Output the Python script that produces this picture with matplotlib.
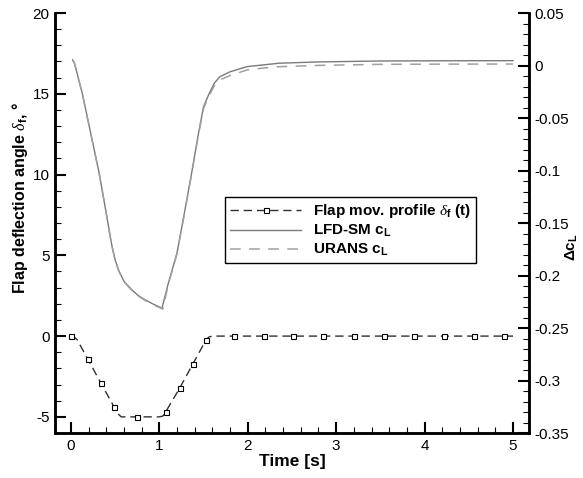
import matplotlib
matplotlib.use("Agg")
import matplotlib.pyplot as plt
from matplotlib.ticker import MultipleLocator
import numpy as np

plt.rcParams['font.family'] = ['Liberation Sans', 'DejaVu Sans']
plt.rcParams['mathtext.fontset'] = 'custom'
plt.rcParams['mathtext.rm'] = 'Liberation Sans'
plt.rcParams['mathtext.it'] = 'Liberation Serif:italic'
plt.rcParams['mathtext.bf'] = 'Liberation Sans:bold'
plt.rcParams['axes.unicode_minus'] = False

# ---------------- data ----------------
# flap movement profile (deg), left axis
flap_t = [0.0, 0.03, 0.07, 0.19, 0.34, 0.49, 0.54, 0.57, 0.75, 1.00, 1.04, 1.07,
          1.23, 1.38, 1.53, 1.56, 1.60, 1.85, 2.18, 2.51, 2.85, 3.20, 3.54, 3.88,
          4.22, 4.56, 4.90, 5.00]
flap_deg = [0.0, -0.03, -0.22, -1.41, -2.92, -4.40, -4.85, -5.0, -5.0, -5.0, -4.95, -4.71,
            -3.22, -1.72, -0.22, -0.06, 0.0, 0.0, 0.0, 0.0, 0.0, 0.0, 0.0, 0.0,
            0.0, 0.0, 0.0, 0.0]
flap_marker_t = [0.0, 0.19, 0.34, 0.49, 0.75, 1.07, 1.23, 1.38, 1.53, 1.85, 2.18,
                 2.51, 2.85, 3.20, 3.54, 3.88, 4.22, 4.56, 4.90]

# LFD-SM delta cL, right axis
lfd_t = [0.02, 0.04, 0.13, 0.22, 0.32, 0.40, 0.46, 0.50, 0.54, 0.60, 0.69, 0.76,
         0.84, 0.93, 1.03, 1.10, 1.20, 1.28, 1.365, 1.44, 1.50, 1.565, 1.62, 1.685,
         1.80, 1.99, 2.20, 2.36, 2.80, 3.49, 4.20, 5.00]
lfd_cl = [0.0054, 0.0023, -0.0269, -0.0628, -0.1026, -0.1408, -0.1700, -0.1850,
          -0.1950, -0.2055, -0.2137, -0.2190, -0.2232, -0.2272, -0.2311, -0.2080, -0.1785,
          -0.1420, -0.1026, -0.0660, -0.0392, -0.0265, -0.0170, -0.0106, -0.0060,
          -0.0011, 0.0008, 0.0022, 0.0034, 0.0043, 0.0045, 0.0046]

# URANS delta cL, right axis
urans_t = [0.02, 0.04, 0.13, 0.22, 0.32, 0.40, 0.46, 0.50, 0.54, 0.60, 0.69, 0.76,
           0.84, 0.93, 1.04, 1.10, 1.20, 1.28, 1.365, 1.44, 1.50, 1.565, 1.62, 1.685,
           1.80, 1.99, 2.20, 2.36, 2.80, 3.49, 4.20, 5.00]
urans_cl = [0.0050, 0.0020, -0.0274, -0.0633, -0.1030, -0.1413, -0.1705, -0.1855,
            -0.1955, -0.2060, -0.2142, -0.2195, -0.2237, -0.2278, -0.2320, -0.2090, -0.1795,
            -0.1430, -0.1036, -0.0672, -0.0408, -0.0285, -0.0195, -0.0138, -0.0095,
            -0.0043, -0.0022, -0.0011, 0.0001, 0.0011, 0.0013, 0.0014]

labels = [r"Flap mov. profile $\mathit{\delta}_\mathregular{f}$ (t)",
          r"LFD-SM c$_\mathbf{L}$",
          r"URANS c$_\mathbf{L}$"]

# ---------------- figure ----------------
fig = plt.figure(figsize=(5.83, 4.78), dpi=100)
ax = fig.add_axes([0.0943, 0.0941, 0.8130, 0.8787])
ax2 = ax.twinx()

marker_idx = [flap_t.index(t) for t in flap_marker_t]
l1, = ax.plot(flap_t, flap_deg, color='#303030', lw=1.0, dashes=(6, 3.5),
              marker='s', markersize=3.6, markerfacecolor='white',
              markeredgecolor='black', markeredgewidth=0.8, markevery=marker_idx)
l2, = ax2.plot(lfd_t, lfd_cl, color='#7a7a7a', lw=1.0)
l3, = ax2.plot(urans_t, urans_cl, color='#a0a0a0', lw=1.1, dashes=(7, 5.5))

ax.set_xlim(-0.18, 5.18)
ax.set_ylim(-6, 20)
ax2.set_ylim(-0.35, 0.05)

ax.xaxis.set_major_locator(MultipleLocator(1))
ax.xaxis.set_minor_locator(MultipleLocator(0.2))
ax.yaxis.set_major_locator(MultipleLocator(5))
ax.yaxis.set_minor_locator(MultipleLocator(1))
ax2.yaxis.set_major_locator(MultipleLocator(0.05))
ax2.yaxis.set_minor_locator(MultipleLocator(0.01))

def fmt2(v, pos):
    s = ('%.2f' % v).rstrip('0').rstrip('.')
    if s in ('-0', '0'):
        s = '0'
    return s
ax2.yaxis.set_major_formatter(plt.FuncFormatter(fmt2))

for a in (ax, ax2):
    a.spines['top'].set_visible(False)
    for s in ('left', 'right', 'bottom'):
        a.spines[s].set_linewidth(1.8)
    a.tick_params(which='major', direction='in', length=8, width=1.5, labelsize=11, pad=4)
    a.tick_params(which='minor', direction='in', length=4, width=0.8)
ax.tick_params(axis='y', which='both', right=False)
ax.tick_params(axis='x', which='both', top=False)

ax.set_xlabel("Time [s]", fontsize=12.5, fontweight='bold', labelpad=1)
ax.set_ylabel(r"Flap deflection angle $\mathit{\delta}_\mathregular{f}$, °",
              fontsize=11.5, fontweight='bold')
ax.yaxis.set_label_coords(-0.052, 0.56)
fig.text(572 / 583, 1 - 247 / 478, r"$\mathbf{\Delta c_L}$", rotation=90,
         fontsize=11, ha='center', va='center')

leg = ax.legend([l1, l2, l3], labels, loc='upper left',
                bbox_to_anchor=(0.3587, 0.5619), borderaxespad=0,
                prop={'weight': 'bold', 'size': 11}, handlelength=4.65,
                handletextpad=0.8, labelspacing=0.2, borderpad=0.33,
                fancybox=False, framealpha=1, edgecolor='black')
leg.get_frame().set_linewidth(1.0)

fig.savefig("out.png", dpi=100)
